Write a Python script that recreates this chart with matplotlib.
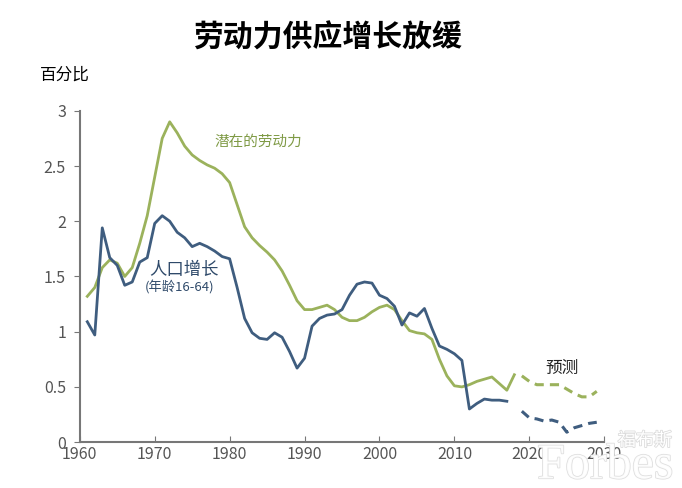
import matplotlib.pyplot as plt
import matplotlib.patheffects as pe

plt.rcParams['font.family'] = ['Noto Sans CJK SC', 'DejaVu Sans']

# 潜在的劳动力 (solid, history)
years_hist = list(range(1961, 2019))
labor = [1.32, 1.40, 1.58, 1.65, 1.62, 1.50, 1.58, 1.80, 2.05, 2.40,
         2.75, 2.90, 2.80, 2.68, 2.60, 2.55, 2.51, 2.48, 2.43, 2.35,
         2.15, 1.95, 1.85, 1.78, 1.72, 1.65, 1.55, 1.42, 1.28, 1.20,
         1.20, 1.22, 1.24, 1.20, 1.13, 1.10, 1.10, 1.13, 1.18, 1.22,
         1.24, 1.20, 1.10, 1.01, 0.99, 0.98, 0.93, 0.75, 0.60, 0.51,
         0.50, 0.52, 0.55, 0.57, 0.59, 0.53, 0.47, 0.61]

# 人口增长 (年龄16-64)
years_pop = list(range(1961, 2018))
pop = [1.09, 0.97, 1.94, 1.67, 1.60, 1.42, 1.45, 1.63, 1.67, 1.98,
       2.05, 2.00, 1.90, 1.85, 1.77, 1.80, 1.77, 1.73, 1.68, 1.66,
       1.40, 1.12, 0.99, 0.94, 0.93, 0.99, 0.95, 0.82, 0.67, 0.76,
       1.05, 1.12, 1.15, 1.16, 1.20, 1.33, 1.43, 1.45, 1.44, 1.33,
       1.30, 1.23, 1.06, 1.17, 1.14, 1.21, 1.03, 0.87, 0.84, 0.80,
       0.74, 0.30, 0.35, 0.39, 0.38, 0.38, 0.37]

# 预测
years_fc = list(range(2019, 2030))
labor_fc = [0.60, 0.55, 0.52, 0.52, 0.52, 0.52, 0.48, 0.44, 0.41, 0.41, 0.46]
pop_fc = [0.28, 0.22, 0.21, 0.19, 0.20, 0.18, 0.09, 0.13, 0.15, 0.17, 0.18]

green = '#9bb25c'
blue = '#3f5d7f'

fig = plt.figure(figsize=(6.82, 4.88), dpi=100)
ax = fig.add_axes([0.117, 0.094, 0.769, 0.679])

ax.plot(years_hist, labor, color=green, lw=2)
ax.plot(years_pop, pop, color=blue, lw=2)
ax.plot(years_fc, labor_fc, color=green, lw=2.2, ls=(0, (3, 2)))
ax.plot(years_fc, pop_fc, color=blue, lw=2.2, ls=(0, (3, 2)))

ax.set_xlim(1960, 2030)
ax.set_ylim(0, 3)
ax.set_xticks(range(1960, 2031, 10))
ax.set_yticks([0, 0.5, 1, 1.5, 2, 2.5, 3])
ax.set_yticklabels(['0', '0.5', '1', '1.5', '2', '2.5', '3'])
for s in ['top', 'right']:
    ax.spines[s].set_visible(False)
for s in ['left', 'bottom']:
    ax.spines[s].set_color('#777777')
    ax.spines[s].set_linewidth(1.5)
ax.tick_params(axis='x', direction='in', length=4, color='#777777',
               labelsize=11.5, labelcolor='#555555', pad=3)
ax.tick_params(axis='y', direction='out', length=4, color='#777777',
               labelsize=11.5, labelcolor='#555555', pad=6)

ax.text(1978, 2.72, '潜在的劳动力', color='#7f9a45', fontsize=10.5,
        va='center')
ax.text(1969.3, 1.56, '人口增长', color='#2f4a6a', fontsize=12.5,
        va='center')
ax.text(1968.7, 1.40, '(年龄16-64)', color='#2f4a6a', fontsize=9.5,
        va='center')
ax.text(2022.1, 0.67, '预测', color='#222222', fontsize=12, va='center')

fig.text(0.48, 0.922, '劳动力供应增长放缓', ha='center', va='center',
         fontsize=21.5, fontweight='bold')
fig.text(0.058, 0.845, '百分比', ha='left', va='center', fontsize=12)

# watermark
wm = [pe.withStroke(linewidth=1.2, foreground='#dcdcdc')]
fig.text(0.985, 0.097, '福布斯', ha='right', va='center', fontsize=13,
         color='white', path_effects=wm)
fig.text(0.987, 0.045, 'Forbes', ha='right', va='center', fontsize=36,
         family='Liberation Serif', color='white', path_effects=wm, alpha=0.9)

fig.savefig('out.png', dpi=100)
